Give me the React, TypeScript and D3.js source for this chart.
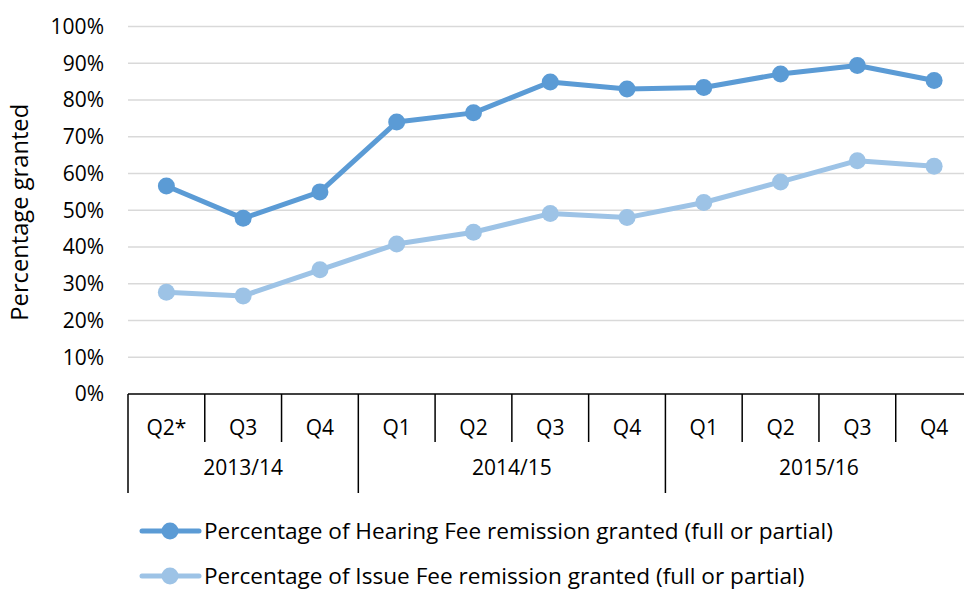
import React, { useEffect, useRef } from "react";
import * as d3 from "d3";

// quarters and their financial years
const quarters = ["Q2*", "Q3", "Q4", "Q1", "Q2", "Q3", "Q4", "Q1", "Q2", "Q3", "Q4"];
const years = [
  { label: "2013/14", start: 0, end: 3 },
  { label: "2014/15", start: 3, end: 7 },
  { label: "2015/16", start: 7, end: 11 },
];
const hearing = [56.6, 47.8, 55, 74, 76.5, 84.9, 83, 83.4, 87.1, 89.4, 85.3];
const issue = [27.7, 26.7, 33.8, 40.8, 44, 49.1, 48, 52.1, 57.7, 63.5, 62];
const yTicks = [0, 10, 20, 30, 40, 50, 60, 70, 80, 90, 100];

const seriesList = [
  { name: "Percentage of Hearing Fee remission granted (full or partial)", values: hearing, color: "#5B9BD5" },
  { name: "Percentage of Issue Fee remission granted (full or partial)", values: issue, color: "#9DC3E6" },
];

export default function App() {
  const ref = useRef<SVGSVGElement>(null);

  useEffect(() => {
    const svg = d3.select(ref.current);
    svg.selectAll("*").remove();

    const left = 128, right = 972.5, top = 26.5, bottom = 394;
    const font = "'Open Sans', sans-serif";

    const x = d3.scaleBand<number>().domain(d3.range(quarters.length)).range([left, right]);
    const y = d3.scaleLinear().domain([0, 100]).range([bottom, top]);

    // gridlines
    svg.append("g").selectAll("line")
      .data(yTicks.slice(1))
      .enter().append("line")
      .attr("x1", left).attr("x2", right)
      .attr("y1", (d) => y(d)).attr("y2", (d) => y(d))
      .style("stroke", "#D9D9D9").style("stroke-width", 1.5);

    // y tick labels
    svg.append("g").selectAll("text")
      .data(yTicks)
      .enter().append("text")
      .attr("x", 104).attr("y", (d) => y(d)).attr("dy", "0.35em")
      .attr("text-anchor", "end")
      .style("font-family", font).style("font-size", "21px").style("fill", "#000")
      .text((d) => d + "%");

    // y axis title
    svg.append("text")
      .attr("transform", `translate(28,${(top + bottom) / 2 + 2}) rotate(-90)`)
      .attr("text-anchor", "middle")
      .style("font-family", font).style("font-size", "23.7px")
      .text("Percentage granted");

    // x axis line
    svg.append("line")
      .attr("x1", left).attr("x2", right).attr("y1", bottom).attr("y2", bottom)
      .style("stroke", "#000").style("stroke-width", 1.5);

    // quarter separators
    const bw = x.bandwidth();
    svg.append("g").selectAll("line")
      .data(d3.range(quarters.length + 1).filter((i) => !years.some((yr) => yr.start === i || yr.end === i)))
      .enter().append("line")
      .attr("x1", (i) => left + i * bw).attr("x2", (i) => left + i * bw)
      .attr("y1", bottom).attr("y2", 442)
      .style("stroke", "#000").style("stroke-width", 1.5);

    // year separators (longer)
    svg.append("g").selectAll("line")
      .data([0, ...years.map((yr) => yr.end)])
      .enter().append("line")
      .attr("x1", (i) => left + i * bw).attr("x2", (i) => left + i * bw)
      .attr("y1", bottom).attr("y2", 493)
      .style("stroke", "#000").style("stroke-width", 1.5);

    // quarter labels
    svg.append("g").selectAll("text")
      .data(quarters)
      .enter().append("text")
      .attr("x", (_, i) => x(i)! + bw / 2).attr("y", 428).attr("dy", "0.35em")
      .attr("text-anchor", "middle")
      .style("font-family", font).style("font-size", "21px")
      .text((d) => d);

    // year labels
    svg.append("g").selectAll("text")
      .data(years)
      .enter().append("text")
      .attr("x", (d) => left + ((d.start + d.end) / 2) * bw).attr("y", 468).attr("dy", "0.35em")
      .attr("text-anchor", "middle")
      .style("font-family", font).style("font-size", "21px")
      .text((d) => d.label);

    const line = d3.line<number>()
      .x((_, i) => x(i)! + bw / 2)
      .y((d) => y(d));

    // series, light one drawn first
    seriesList.slice().reverse().forEach((s) => {
      svg.append("path")
        .datum(s.values)
        .attr("d", line)
        .style("fill", "none").style("stroke", s.color)
        .style("stroke-width", 5).style("stroke-linejoin", "round").style("stroke-linecap", "round");
      svg.append("g").selectAll("circle")
        .data(s.values)
        .enter().append("circle")
        .attr("cx", (_, i) => x(i)! + bw / 2).attr("cy", (d) => y(d))
        .attr("r", 8.5).style("fill", s.color);
    });

    // legend
    const legend = svg.append("g").selectAll("g")
      .data(seriesList)
      .enter().append("g")
      .attr("transform", (_, i) => `translate(0,${531 + i * 45})`);
    legend.append("line")
      .attr("x1", 142).attr("x2", 199).attr("y1", 0).attr("y2", 0)
      .style("stroke", (d) => d.color).style("stroke-width", 5).style("stroke-linecap", "round");
    legend.append("circle")
      .attr("cx", 170).attr("cy", 0).attr("r", 8.5)
      .style("fill", (d) => d.color);
    legend.append("text")
      .attr("x", 204).attr("y", 0).attr("dy", "0.35em")
      .style("font-family", font).style("font-size", "22.6px")
      .text((d) => d.name);
  }, []);

  return (
    <div style={{ position: "absolute", left: 0, top: 0 }}>
      <svg ref={ref} width={964} height={592} style={{ display: "block", background: "#fff" }} />
    </div>
  );
}
